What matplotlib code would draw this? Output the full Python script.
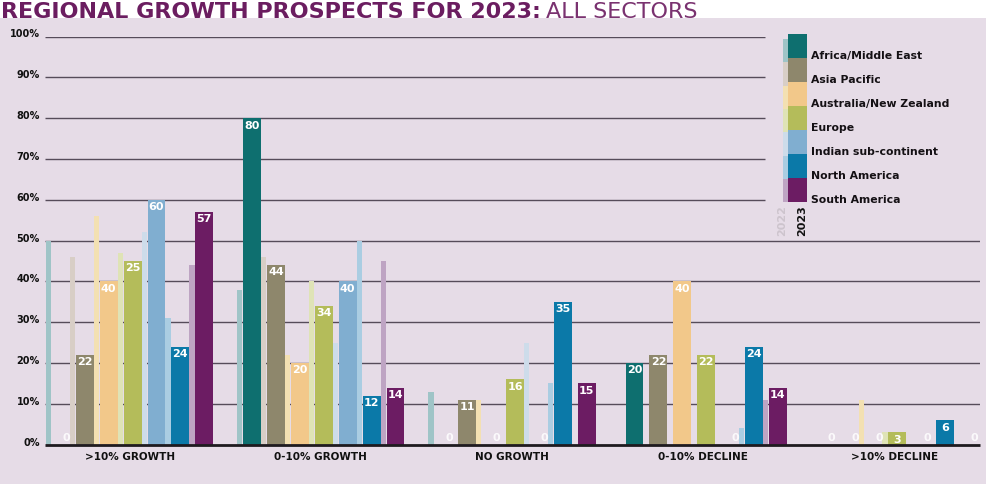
import matplotlib.pyplot as plt
from matplotlib.patches import Rectangle
from matplotlib import transforms, font_manager

categories = ['>10% GROWTH', '0-10% GROWTH', 'NO GROWTH', '0-10% DECLINE', '>10% DECLINE']
regions = ['Africa/Middle East', 'Asia Pacific', 'Australia/New Zealand', 'Europe',
           'Indian sub-continent', 'North America', 'South America']

# one list per region, one value per category (percent of respondents)
values_2023 = [[0, 80, 0, 20, 0],
               [22, 44, 11, 22, 0],
               [40, 20, 0, 40, 0],
               [45, 34, 16, 22, 3],
               [60, 40, 0, 0, 0],
               [24, 12, 35, 24, 6],
               [57, 14, 15, 14, 0]]
labels_2023 = [[0, 80, 0, 20, 0],
               [22, 44, 11, 22, 0],
               [40, 20, 0, 40, 0],
               [25, 34, 16, 22, 3],
               [60, 40, 0, 0, 0],
               [24, 12, 35, 24, 6],
               [57, 14, 15, 14, 0]]
values_2022 = [[50, 38, 13, 0, 0],
               [46, 46, 0, 0, 0],
               [56, 22, 11, 0, 11],
               [47, 40, 0, 0, 3],
               [52, 25, 25, 0, 0],
               [31, 50, 15, 4, 0],
               [44, 45, 0, 11, 0]]
yticks = [0, 10, 20, 30, 40, 50, 60, 70, 80, 90, 100]

colors_2023 = ['#0e6f6f', '#8e876c', '#f2c88a', '#b4bc5a', '#80aed0', '#0b79a8', '#6c1c63']
colors_2022 = ['#9fc4c7', '#d8cec6', '#f3e0b2', '#dfe3b6', '#cddcea', '#aacde2', '#bea4c3']
BG = '#e6dce7'
PURPLE = '#6b1d60'
GRID = '#564c5a'

W, H = 987, 485
fig = plt.figure(figsize=(W / 100, H / 100), dpi=100)
fig.patch.set_facecolor('white')
fig.patches.append(Rectangle((0, 0), 1, 1 - 19 / H, transform=fig.transFigure,
                             facecolor=BG, edgecolor='none', zorder=-5))

ax = fig.add_axes([45 / W, 1 - 445.7 / H, 935 / W, 408.2 / H])
ax.set_facecolor('none')
x0, x1 = -0.04, 39.08
ax.set_xlim(x0, x1)
ax.set_ylim(0, 100)
for s in ax.spines.values():
    s.set_visible(False)
ax.set_xticks([])
ax.set_yticks([])

# gridlines (upper ones stop where the legend sits)
for y in yticks[1:]:
    xmax = 30.08 if y >= 60 else x1
    ax.hlines(y, x0, xmax, color=GRID, lw=1.0, zorder=1)
ax.hlines(0, x0, x1, color='#1e1a1f', lw=2.0, zorder=4, clip_on=False)

tr = transforms.blended_transform_factory(fig.transFigure, ax.transData)
for y in yticks:
    ax.text(40 / W, y, f'{y}%', transform=tr, ha='right', va='baseline',
            fontsize=7, fontweight='bold', color='#111111')

step = 8
for r in range(len(regions)):
    xs = [g * step + r for g in range(len(categories))]
    ax.bar(xs, values_2022[r], width=0.22, align='edge', color=colors_2022[r],
           zorder=2, linewidth=0)
    bars = ax.bar([x + 0.25 for x in xs], values_2023[r], width=0.75, align='edge',
                  color=colors_2023[r], zorder=3, linewidth=0)
    for b, lab in zip(bars, labels_2023[r]):
        cx = b.get_x() + b.get_width() / 2
        h = b.get_height()
        if h > 0:
            ax.annotate(str(lab), (cx, h), xytext=(0, -1), textcoords='offset points',
                        ha='center', va='top', color='white', fontsize=8,
                        fontweight='bold', zorder=5)
        else:
            ax.annotate('0', (cx, 0), xytext=(4, 2), textcoords='offset points',
                        ha='center', va='bottom', color='white', alpha=0.85,
                        fontsize=8, fontweight='bold', zorder=5)

trx = transforms.blended_transform_factory(ax.transData, fig.transFigure)
for g, cat in enumerate(categories):
    ax.text(g * step + 3.5, 1 - 457 / H, cat, transform=trx, ha='center', va='center',
            fontsize=7.5, fontweight='bold', color='#111111')

# title: bold part + regular part
t1 = fig.text(1 / W, 1 - 18 / H, 'REGIONAL GROWTH PROSPECTS FOR 2023:', ha='left',
              va='baseline', fontsize=16, fontweight='bold', color=PURPLE, zorder=5)
fig.canvas.draw()
bb = t1.get_window_extent()
fig.text((bb.x1 + 5) / W, 1 - 18 / H, 'ALL SECTORS', ha='left', va='baseline',
         fontsize=16, color='#7a3270', zorder=5)

# legend drawn in pixel coordinates
names = {f.name for f in font_manager.fontManager.ttflist}
if 'Liberation Sans Narrow' in names:
    leg_font, leg_size = 'Liberation Sans Narrow', 11
else:
    leg_font, leg_size = 'DejaVu Sans', 7.8
lax = fig.add_axes([0, 0, 1, 1])
lax.set_xlim(0, W)
lax.set_ylim(H, 0)
lax.set_facecolor('none')
lax.axis('off')
for i, reg in enumerate(regions):
    lax.add_patch(Rectangle((783, 40 + 23.3 * i), 6, 23.3, facecolor=colors_2022[i],
                            edgecolor='none'))
    lax.add_patch(Rectangle((788, 35 + 24 * i), 19, 24, facecolor=colors_2023[i],
                            edgecolor='none'))
    lax.text(811, 56 + 24 * i, reg, ha='left', va='center', family=leg_font,
             fontsize=leg_size, fontweight='bold', color='#141014')
lax.text(782, 205, '2022', rotation=90, ha='center', va='top', fontsize=8,
         fontweight='bold', color='#cdc4cd')
lax.text(802, 205, '2023', rotation=90, ha='center', va='top', fontsize=8,
         fontweight='bold', color='#111111')

fig.savefig('out.png', dpi=100, facecolor=fig.get_facecolor())
